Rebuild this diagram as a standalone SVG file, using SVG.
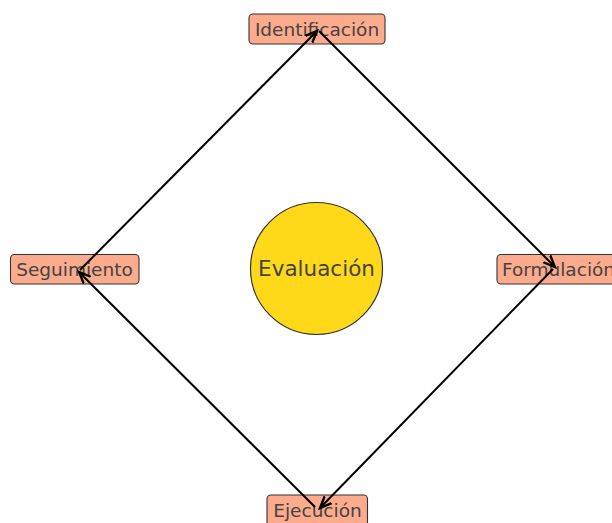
<svg xmlns="http://www.w3.org/2000/svg" width="612" height="523" viewBox="0 0 612 523">
<style>
.box{fill:#FCAB8D;stroke:#333;stroke-width:1.1}
.lbl{font-family:"DejaVu Sans",sans-serif;font-size:18.5px;fill:#444;text-anchor:middle}
.edge{stroke:#000;stroke-width:2;fill:none;marker-end:url(#ah)}
</style>
<defs>
<marker id="ah" markerUnits="userSpaceOnUse" markerWidth="14" markerHeight="14" refX="10" refY="5" orient="auto" viewBox="0 0 12 10">
<path d="M0,0.8 L10,5 L0,9.2" fill="none" stroke="#000" stroke-width="2"/>
</marker>
</defs>
<rect width="612" height="523" fill="#fff"/>
<g id="evaluacion">
<circle cx="316.5" cy="268.5" r="66" fill="#FFD919" stroke="#333" stroke-width="1.2"/>
<text x="316.5" y="276" class="lbl" style="font-size:21.5px">Evaluación</text>
</g>
<g id="identificacion">
<rect class="box" x="249" y="14" width="136" height="30" rx="4"/>
<text x="317" y="35.5" class="lbl">Identificación</text>
</g>
<g id="seguimiento">
<rect class="box" x="10.5" y="254.5" width="128.5" height="29.5" rx="4"/>
<text x="74.5" y="276" class="lbl">Seguimiento</text>
</g>
<g id="formulacion">
<rect class="box" x="497" y="254.5" width="125" height="29.5" rx="4"/>
<text x="558.5" y="276" class="lbl">Formulación</text>
</g>
<g id="ejecucion">
<rect class="box" x="267" y="495" width="100.5" height="32" rx="4"/>
<text x="317.5" y="517" class="lbl">Ejecución</text>
</g>
<g id="connectors">
<line class="edge" x1="319" y1="31" x2="555" y2="267"/>
<line class="edge" x1="553" y1="269" x2="320" y2="508"/>
<line class="edge" x1="315" y1="507" x2="79" y2="272"/>
<line class="edge" x1="80" y1="270" x2="317" y2="31"/>
</g>
</svg>
